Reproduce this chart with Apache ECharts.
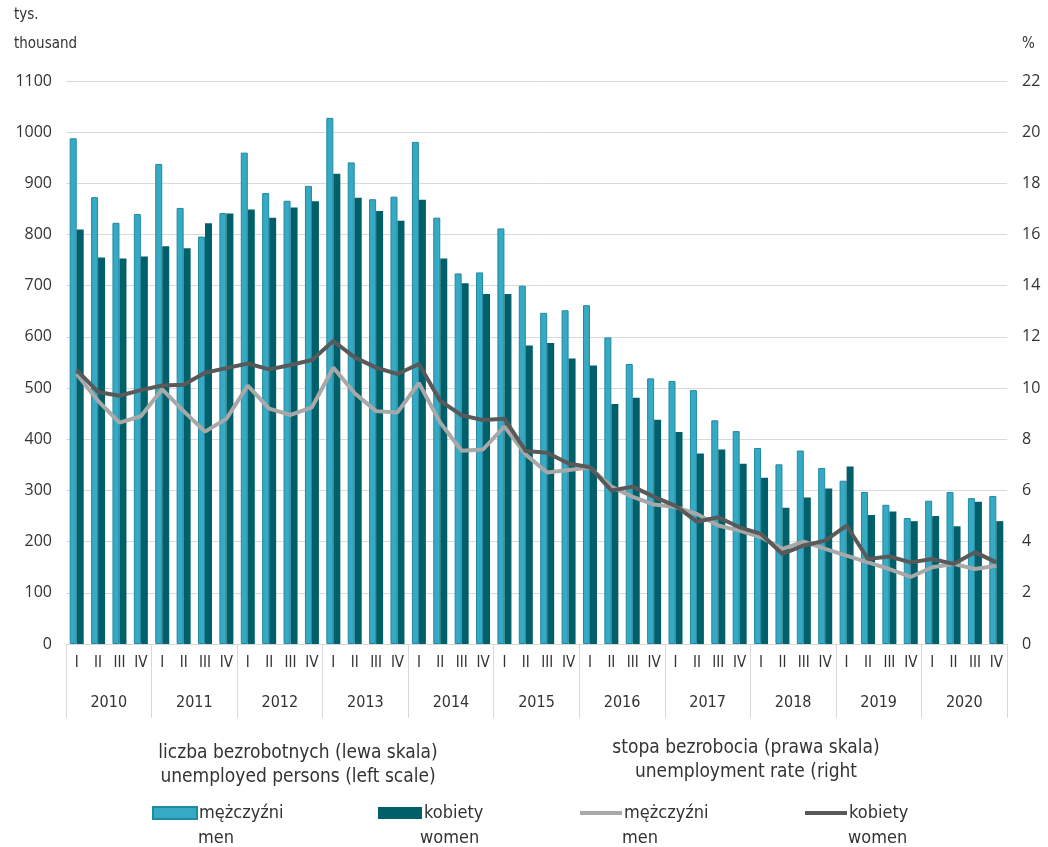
<!DOCTYPE html>
<html>
<head>
<meta charset="utf-8">
<script src="https://cdn.jsdelivr.net/npm/echarts@6/dist/echarts.min.js"></script>
<style>
html,body{margin:0;padding:0;background:#fff;}
#chart{width:1048px;height:847px;}
</style>
</head>
<body>
<div id="chart"></div>
<script>
const years = ['2010','2011','2012','2013','2014','2015','2016','2017','2018','2019','2020'];
const quarterNames = ['I','II','III','IV'];
const quarters = [];
years.forEach(function(){ quarterNames.forEach(function(q){ quarters.push(q); }); });

const leftTicks = { min: 0, max: 1100, interval: 100 };
const rightTicks = { min: 0, max: 22, interval: 2 };

// unemployed persons, thousand
const menPersons = [988,873,823,840, 938,852,796,842, 960,881,866,895, 1028,941,869,874, 981,833,724,726, 812,700,647,652, 662,599,547,519, 514,496,437,416, 383,351,378,344, 319,297,272,246, 280,297,285,289];
const womenPersons = [810,755,753,757, 777,773,822,841, 849,833,853,865, 919,872,846,827, 868,753,705,684, 684,583,588,558, 544,469,481,438, 414,372,380,352, 325,266,286,304, 347,252,259,240, 250,230,278,240];
// unemployment rate, %
const menRate = [10.55,9.5,8.65,8.9, 9.95,9.1,8.3,8.8, 10.1,9.2,8.95,9.25, 10.8,9.8,9.1,9.05, 10.2,8.65,7.55,7.6, 8.5,7.4,6.7,6.8, 6.9,6.15,5.75,5.45, 5.35,5.08,4.63,4.43, 4.17,3.72,4.0,3.72, 3.45,3.19,2.93,2.62, 3.0,3.13,2.93,3.06];
const womenRate = [10.7,9.85,9.7,9.92, 10.1,10.13,10.6,10.78, 10.96,10.73,10.9,11.1, 11.84,11.2,10.8,10.55, 10.94,9.5,8.94,8.75, 8.8,7.54,7.47,7.05, 6.91,6.0,6.15,5.75, 5.4,4.78,4.95,4.56, 4.30,3.52,3.85,4.04, 4.63,3.32,3.42,3.19, 3.32,3.13,3.59,3.19];

const FONT = "'DejaVu Sans Condensed','Liberation Sans Narrow',sans-serif";
const NUMFONT = "'Open Sans','Noto Sans',sans-serif";
const TXT = '#333333';
const GRIDC = '#d9d9d9';

const chart = echarts.init(document.getElementById('chart'), null, {renderer:'canvas'});

function legendAt(name, left, label, isLine){
  return {
    data:[{name:name, icon:'rect'}], left:left, top:804,
    itemWidth:isLine ? 42 : 44, itemHeight:isLine ? 4 : 12, padding:0,
    itemGap:0, selectedMode:false,
    formatter:function(){ return label; },
    textStyle:{fontFamily:FONT, fontSize:18, color:TXT, padding:[0,0,0,-3]}
  };
}

chart.setOption({
  animation:false,
  backgroundColor:'#ffffff',
  grid:{left:66, right:41, top:81, bottom:203, containLabel:false},
  legend:[
    legendAt('men_bar',152,'mężczyźni',false),
    legendAt('women_bar',378,'kobiety',false),
    legendAt('men_line',580,'mężczyźni',true),
    legendAt('women_line',805,'kobiety',true)
  ],
  xAxis:[
    {type:'category', data:quarters, position:'bottom',
     axisLine:{show:true, lineStyle:{color:GRIDC, width:1}},
     axisTick:{show:false},
     axisLabel:{interval:0, margin:12, fontFamily:FONT, fontSize:15, color:TXT}},
    {type:'category', data:years, position:'bottom',
     axisLine:{show:false},
     axisTick:{show:true, interval:0, length:74, lineStyle:{color:GRIDC, width:1}},
     axisLabel:{interval:0, margin:51, fontFamily:FONT, fontSize:16, color:TXT}}
  ],
  yAxis:[
    {type:'value', min:leftTicks.min, max:leftTicks.max, interval:leftTicks.interval, position:'left',
     axisLine:{show:false}, axisTick:{show:false},
     splitLine:{show:true, lineStyle:{color:GRIDC, width:1}},
     axisLabel:{margin:14, fontFamily:NUMFONT, fontSize:16, color:TXT, formatter:function(v){return String(v);}}},
    {type:'value', min:rightTicks.min, max:rightTicks.max, interval:rightTicks.interval, position:'right',
     axisLine:{show:false}, axisTick:{show:false}, splitLine:{show:false},
     axisLabel:{margin:15, fontFamily:NUMFONT, fontSize:16, color:TXT, formatter:function(v){return String(v);}}}
  ],
  series:[
    {name:'men_bar', type:'bar', xAxisIndex:0, yAxisIndex:0, data:menPersons,
     barWidth:7, barGap:'0%',
     itemStyle:{color:'#36aac4', borderColor:'#1f8aa3', borderWidth:1}},
    {name:'women_bar', type:'bar', xAxisIndex:0, yAxisIndex:0, data:womenPersons,
     barWidth:7, barGap:'0%',
     itemStyle:{color:'#005f68'}},
    {name:'men_line', type:'line', xAxisIndex:0, yAxisIndex:1, data:menRate,
     symbol:'none', z:5, lineStyle:{color:'#a8a8a8', width:4}, itemStyle:{color:'#a8a8a8'}},
    {name:'women_line', type:'line', xAxisIndex:0, yAxisIndex:1, data:womenRate,
     symbol:'none', z:6, lineStyle:{color:'#595959', width:4}, itemStyle:{color:'#595959'}}
  ],
  graphic:[
    {type:'text', left:14, top:8, style:{text:'tys.', font:'15px '+FONT, fill:TXT}},
    {type:'text', left:14, top:37, style:{text:'thousand', font:'15px '+FONT, fill:TXT}},
    {type:'text', left:1022, top:37, style:{text:'%', font:'15px '+FONT, fill:TXT}},
    {type:'text', x:298, y:753, style:{text:'liczba bezrobotnych (lewa skala)', font:'19px '+FONT, fill:TXT, align:'center', verticalAlign:'middle'}},
    {type:'text', x:298, y:777, style:{text:'unemployed persons (left scale)', font:'19px '+FONT, fill:TXT, align:'center', verticalAlign:'middle'}},
    {type:'text', x:746, y:748, style:{text:'stopa bezrobocia (prawa skala)', font:'19px '+FONT, fill:TXT, align:'center', verticalAlign:'middle'}},
    {type:'text', x:746, y:772, style:{text:'unemployment rate (right', font:'19px '+FONT, fill:TXT, align:'center', verticalAlign:'middle'}},
    {type:'text', x:198, y:838, style:{text:'men', font:'18px '+FONT, fill:TXT, verticalAlign:'middle'}},
    {type:'text', x:420, y:838, style:{text:'women', font:'18px '+FONT, fill:TXT, verticalAlign:'middle'}},
    {type:'text', x:622, y:838, style:{text:'men', font:'18px '+FONT, fill:TXT, verticalAlign:'middle'}},
    {type:'text', x:848, y:838, style:{text:'women', font:'18px '+FONT, fill:TXT, verticalAlign:'middle'}}
  ]
});
</script>
</body>
</html>
